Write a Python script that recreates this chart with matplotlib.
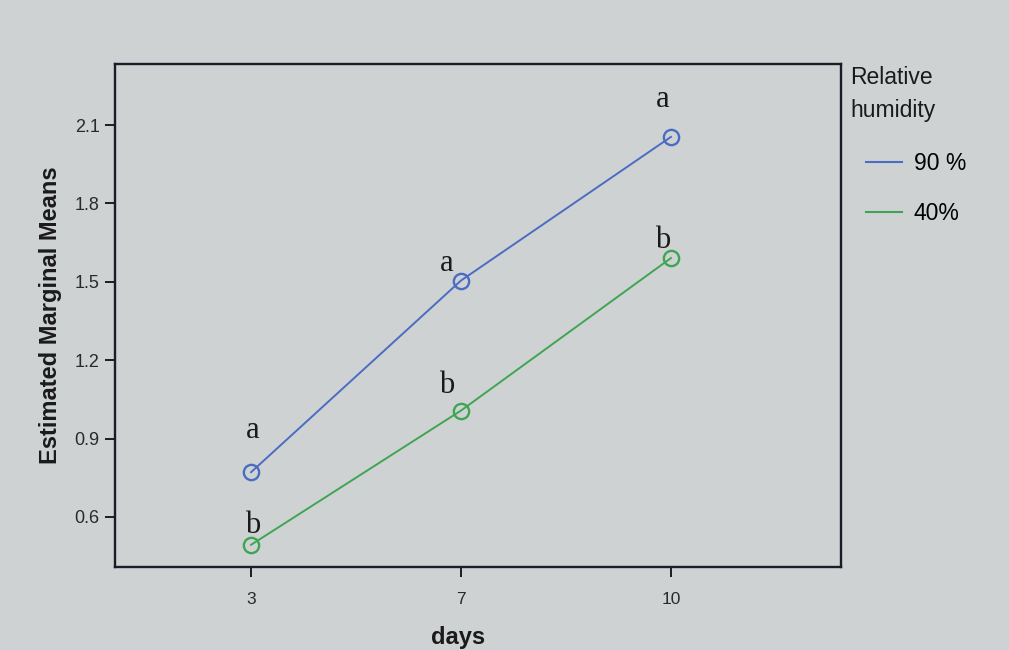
import numpy as np
import matplotlib.pyplot as plt
from matplotlib.lines import Line2D

# data
days = ["3", "7", "10"]
rh_labels = ["90 %", "40%"]
means_90 = [0.771, 1.505, 2.055]
means_40 = [0.493, 1.007, 1.591]
letters_90 = ["a", "a", "a"]
letters_40 = ["b", "b", "b"]

# letter offsets (points) from each marker
offs_90 = [(1, 30), (-10, 12), (-6, 27)]
offs_40 = [(1, 14), (-10, 18), (-6, 13)]

BG = "#cfd2d3"
BLUE = "#4a6cc3"
GREEN = "#3fa553"
DARK = "#1c1c28"

plt.rcParams["font.family"] = ["Liberation Sans", "DejaVu Sans"]

fig = plt.figure(figsize=(10.09, 6.5), dpi=100, facecolor=BG)
ax = fig.add_axes([0.114, 0.1277, 0.7195, 0.7738], facecolor=BG)

x = np.arange(len(days))
l90, = ax.plot(x, means_90, color=BLUE, lw=1.4, marker="o", ms=11,
               mfc="none", mew=1.7, mec=BLUE)
l40, = ax.plot(x, means_40, color=GREEN, lw=1.4, marker="o", ms=11,
               mfc="none", mew=1.7, mec=GREEN)

for xi, yi, t, o in zip(x, means_90, letters_90, offs_90):
    ax.annotate(t, (xi, yi), xytext=o, textcoords="offset points",
                ha="center", va="center", fontsize=22,
                family="Liberation Serif", color="#1a1a1a")
for xi, yi, t, o in zip(x, means_40, letters_40, offs_40):
    ax.annotate(t, (xi, yi), xytext=o, textcoords="offset points",
                ha="center", va="center", fontsize=22,
                family="Liberation Serif", color="#1a1a1a")

ax.set_xlim(-0.648, 2.81)
ax.set_ylim(0.408, 2.334)
ax.set_xticks(x)
ax.set_xticklabels(days)
ax.set_yticks([0.6, 0.9, 1.2, 1.5, 1.8, 2.1])
ax.set_yticklabels(["0.6", "0.9", "1.2", "1.5", "1.8", "2.1"])
ax.tick_params(length=7, width=1.4, color=DARK, labelcolor="#2a2a2a")
ax.tick_params(axis="y", labelsize=13, pad=4)
ax.tick_params(axis="x", labelsize=12.5, pad=11)

for s in ax.spines.values():
    s.set_linewidth(1.7)
    s.set_color(DARK)

ax.set_xlabel("days", fontsize=17, fontweight="bold", color="#1a1a1a")
ax.xaxis.set_label_coords(0.473, -0.117)
ax.set_ylabel("Estimated Marginal Means", fontsize=17, fontweight="bold",
              color="#1a1a1a", labelpad=9)

# legend
fig.text(850 / 1009, 1 - 66 / 650, "Relative\nhumidity", ha="left", va="top",
         fontsize=16.5, linespacing=1.55, color="#1a1a1a")
handles = [Line2D([], [], color=BLUE, lw=1.5), Line2D([], [], color=GREEN, lw=1.5)]
ax.legend(handles, rh_labels, loc="upper left", frameon=False,
          bbox_to_anchor=(866 / 1009, 1 - 152 / 650), bbox_transform=fig.transFigure,
          fontsize=16.5, handlelength=1.56, handletextpad=0.52, labelspacing=1.2,
          borderpad=0, borderaxespad=0)

fig.savefig("out.png", dpi=100, facecolor=BG)
